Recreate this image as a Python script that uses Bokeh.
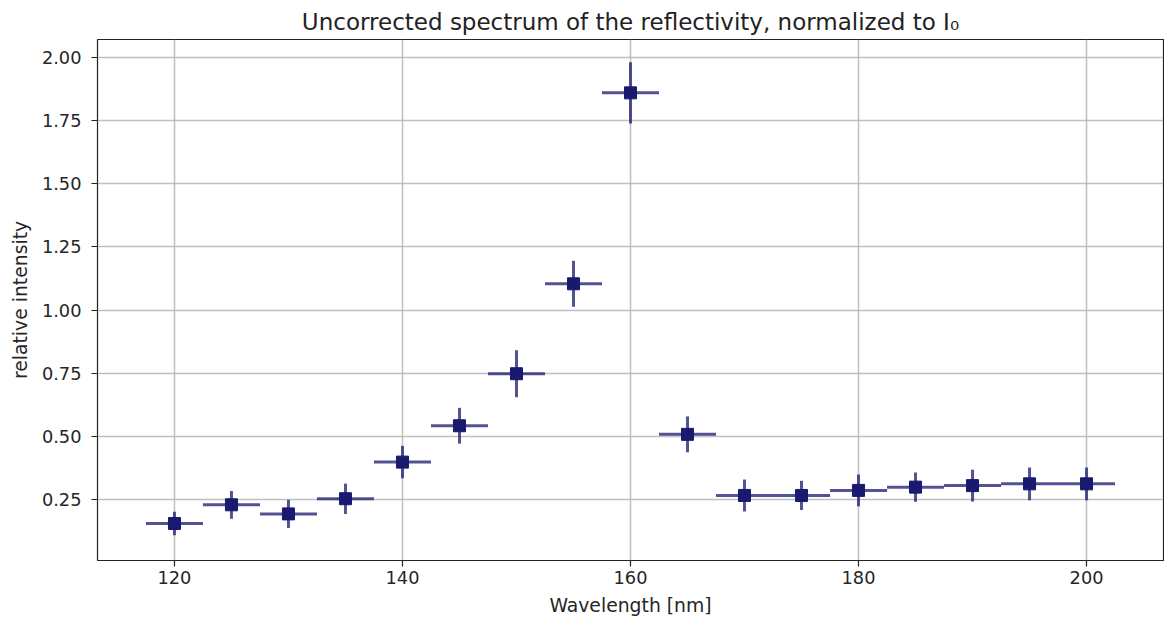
from bokeh.plotting import figure
from bokeh.models import FixedTicker, NumeralTickFormatter, Range1d, ColumnDataSource
from bokeh.embed import file_html
from bokeh.resources import INLINE

wavelength = [120, 125, 130, 135, 140, 145, 150, 155, 160, 165, 170, 175, 180, 185, 190, 195, 200]
intensity = [0.155, 0.229, 0.193, 0.253, 0.398, 0.542, 0.748, 1.104, 1.860, 0.508,
             0.266, 0.266, 0.286, 0.299, 0.305, 0.312, 0.312]
y_err = [0.047, 0.055, 0.056, 0.060, 0.064, 0.071, 0.093, 0.091, 0.121, 0.071,
         0.063, 0.058, 0.063, 0.058, 0.063, 0.065, 0.065]
x_err = [2.5] * 17

x_ticks = [120, 140, 160, 180, 200]
y_ticks = [0.25, 0.50, 0.75, 1.00, 1.25, 1.50, 1.75, 2.00]

FONT = "DejaVu Sans"
COL = "#191970"

src = ColumnDataSource(dict(
    x=wavelength, y=intensity,
    x0=[a - e for a, e in zip(wavelength, x_err)], x1=[a + e for a, e in zip(wavelength, x_err)],
    y0=[a - e for a, e in zip(intensity, y_err)], y1=[a + e for a, e in zip(intensity, y_err)],
))

p = figure(width=1164, height=623, output_backend="svg", toolbar_location=None,
           x_range=Range1d(113.25, 206.75), y_range=Range1d(0.0085, 2.0713),
           min_border_left=97, min_border_right=1, min_border_top=39, min_border_bottom=63,
           title="Uncorrected spectrum of the reflectivity, normalized to I\u2080")

p.title.align = "center"
p.title.text_font = FONT
p.title.text_font_size = "23px"
p.title.text_font_style = "normal"
p.title.text_color = "#222222"
p.title.standoff = 10

p.segment("x0", "y", "x1", "y", source=src, line_color=COL, line_alpha=0.75, line_width=3)
p.segment("x", "y0", "x", "y1", source=src, line_color=COL, line_alpha=0.75, line_width=3)
p.scatter("x", "y", source=src, marker="square", size=12, fill_color=COL, line_color=COL)

p.xaxis.ticker = FixedTicker(ticks=x_ticks)
p.yaxis.ticker = FixedTicker(ticks=y_ticks)
p.yaxis.formatter = NumeralTickFormatter(format="0.00")
p.xaxis.axis_label = "Wavelength [nm]"
p.yaxis.axis_label = "relative intensity"

for ax in (p.xaxis, p.yaxis):
    ax.axis_label_text_font = FONT
    ax.axis_label_text_font_size = "18.8px"
    ax.axis_label_text_font_style = "normal"
    ax.axis_label_text_color = "#262626"
    ax.major_label_text_font = FONT
    ax.major_label_text_font_size = "17.8px"
    ax.major_label_text_color = "#262626"
    ax.axis_line_color = None
    ax.major_tick_line_color = "#222222"
    ax.major_tick_line_width = 1.2
    ax.major_tick_out = 6
    ax.major_tick_in = 0
    ax.minor_tick_line_color = None

p.xaxis.major_label_standoff = 4
p.xaxis.axis_label_standoff = 8
p.yaxis.major_label_standoff = 10
p.yaxis.axis_label_standoff = 8

p.grid.grid_line_color = "#b0b0b0"
p.grid.grid_line_width = 1.5
p.grid.grid_line_alpha = 0.8

p.outline_line_color = "#222222"
p.outline_line_width = 1.2
p.outline_line_alpha = 1.0
p.background_fill_color = "white"
p.border_fill_color = "white"

open("out.html", "w").write(file_html(p, INLINE))
